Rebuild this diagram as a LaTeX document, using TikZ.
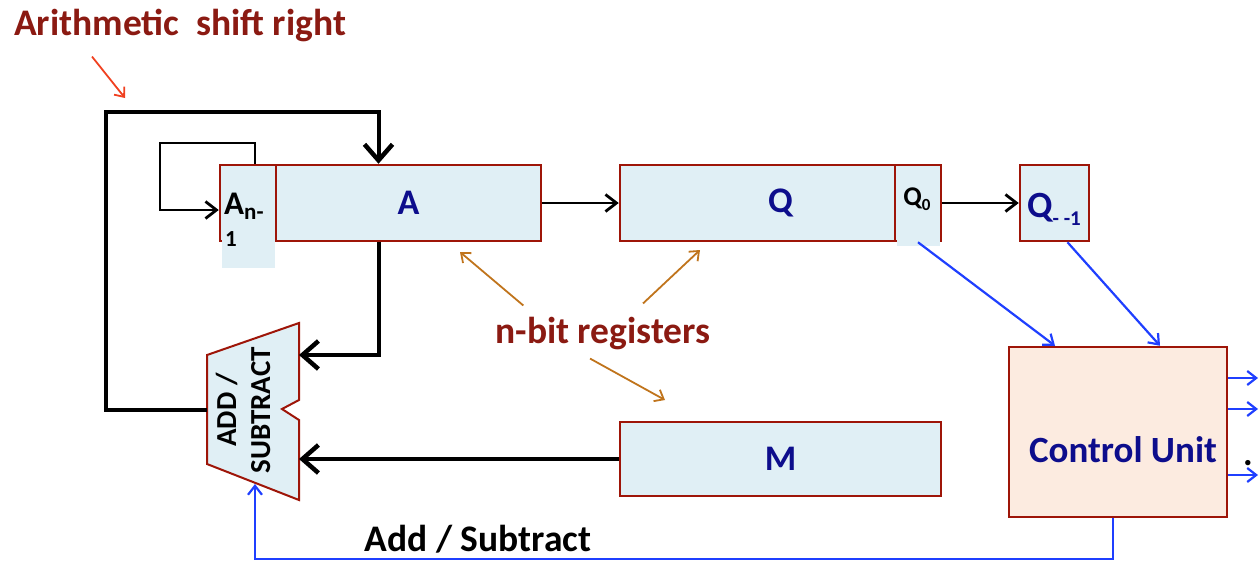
\documentclass[tikz,border=0pt]{standalone}
\usepackage{fontspec}
\setmainfont{Carlito}
\usetikzlibrary{arrows.meta}
\definecolor{regfill}{HTML}{E0EFF5}
\definecolor{regline}{HTML}{9E1508}
\definecolor{regtext}{HTML}{0D0D8C}
\definecolor{cufill}{HTML}{FCEBE0}
\definecolor{sigblue}{HTML}{1F3FFF}
\definecolor{notered}{HTML}{8B1A12}
\definecolor{notearrow}{HTML}{C0741C}
\definecolor{shiftred}{HTML}{F04020}
\begin{document}
\begin{tikzpicture}[x=1pt,y=-1pt,
    reg/.style={draw=regline,line width=2.5pt,fill=regfill,rectangle,inner sep=0pt,
      minimum height=76pt,text=regtext,font=\fontsize{36}{36}\selectfont\bfseries},
    thinarr/.style={-{Straight Barb[length=11pt,width=17pt,line width=2.8pt]},line width=1.5pt,black},
    bigarr/.style={-{Straight Barb[length=16pt,width=28pt,line width=4.5pt]},line width=4pt,black},
    sig/.style={-{Straight Barb[length=9pt,width=14pt]},line width=2.2pt,sigblue},
    note/.style={-{Straight Barb[length=8pt,width=13pt]},line width=1.8pt,notearrow},
    bigtext/.style={inner sep=0pt,font=\fontsize{37.5}{37.5}\selectfont\bfseries}]
  \useasboundingbox (0,0) rectangle (1259,563);
  \draw
    (248.0,203) node[reg,minimum width=56pt] (An1){}
    (408.5,203) node[reg,minimum width=265pt] (A){A}
    (780.5,203) node[reg,minimum width=321pt] (Q){Q}
    (918.0,203) node[reg,minimum width=46pt] (Q0){}
    (1054.5,203) node[reg,minimum width=69pt] (Qm1){}
    (780.5,459) node[reg,minimum width=321pt,minimum height=74pt] (M){M}
    (1118.0,432) node[reg,minimum width=218pt,minimum height=170pt,fill=cufill] (CU){};
  \fill[regfill] (222,237) rectangle (275,268);
  \fill[regfill] (897,237) rectangle (940,246);
  \node[inner sep=0pt,anchor=base west,font=\fontsize{33}{33}\selectfont\bfseries]
    (An1txt) at (224,214) {A\raisebox{-0.35ex}{\fontsize{23}{23}\selectfont n-}};
  \node[inner sep=0pt,anchor=base west,font=\fontsize{23}{23}\selectfont\bfseries]
    (An1sub) at (225,246) {1};
  \node[inner sep=0pt,font=\fontsize{27}{27}\selectfont\bfseries] (Q0txt) at (917,199)
    {Q\raisebox{-0.4ex}{\fontsize{17}{17}\selectfont 0}};
  \node[inner sep=0pt,anchor=base west,text=regtext,font=\fontsize{37}{37}\selectfont\bfseries]
    (Qm1txt) at (1027,217) {Q\raisebox{-0.5ex}{\fontsize{21}{21}\selectfont - -1}};
  \node[inner sep=0pt,text=regtext,font=\fontsize{37}{37}\selectfont\bfseries]
    (CUtxt) at (1123,450) {Control Unit};
  \draw[regline,line width=2pt,fill=regfill]
    (207,355) -- (299,323) -- (299,400) -- (282,409) -- (299,420) -- (299,500) -- (207,464) -- cycle;
  \coordinate (aluL) at (207,410);
  \coordinate (aluA) at (299,355);
  \coordinate (aluB) at (299,459);
  \coordinate (aluC) at (255,484);
  \node[rotate=90,align=center,inner sep=0pt,font=\fontsize{29}{34}\selectfont\bfseries]
    (alutxt) at (243,410) {ADD /\\SUBTRACT};
  \node[bigtext,text=notered,anchor=west] (title) at (14,25) {Arithmetic\ \ shift right};
  \node[bigtext,text=notered] (nbit) at (603,334) {n-bit registers};
  \node[bigtext] (addsub) at (478,539) {Add / Subtract};
  \node[inner sep=0pt,anchor=base,font=\fontsize{36}{36}\selectfont\bfseries] (dots) at (1248,465) {.};
  \coordinate (shiftend) at (125,98);
  \coordinate (tipA) at (460,252);
  \coordinate (tipQ) at (700,250);
  \coordinate (tipM) at (665,400);
  \begin{scope}
    \draw[thinarr] ([xshift=7pt]An1.north) |- (160,143) |- ([yshift=-7pt]An1.west);
    \draw[thinarr] (A) -- (Q);
    \draw[thinarr] (Q0) -- (Qm1);
    \draw[bigarr] (aluL) -| (106,112) -| ([xshift=-30pt]A.north);
    \draw[bigarr] ([xshift=-30pt]A.south) |- (aluA);
    \draw[bigarr] (M) -- (aluB);
    \draw[sig] (Q0.south) -- ([xshift=-63pt]CU.north);
    \draw[sig] ([xshift=13pt]Qm1.south) -- ([xshift=42pt]CU.north);
    \draw[sig] ([xshift=-5pt]CU.south) -- ++(0,41) -| (aluC);
    \foreach \y/\n in {378/1,409/2,475/3} {
      \coordinate (out\n) at (1258,\y);
      \draw[sig] (CU.east |- out\n) -- (out\n);
    }
    \draw[-{Straight Barb[length=8pt,width=13pt]},line width=1.8pt,shiftred]
      ([shift={(78,15)}]title.south west) -- (shiftend);
    \draw[note] ([shift={(28,-12)}]nbit.north west) -- (tipA);
    \draw[note] ([shift={(40,-14)}]nbit.north) -- (tipQ);
    \draw[note] ([shift={(-13,8)}]nbit.south) -- (tipM);
  \end{scope}
\end{tikzpicture}
\end{document}
